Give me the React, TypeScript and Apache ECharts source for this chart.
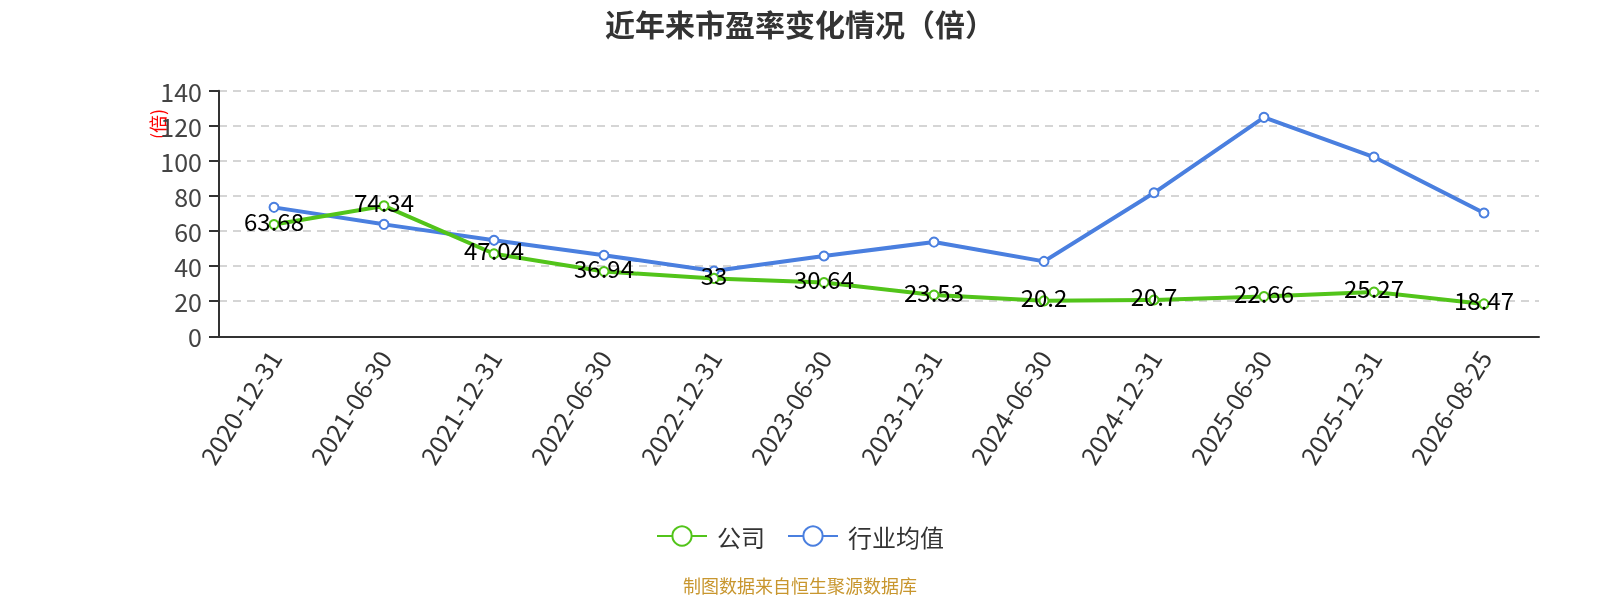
import React, { useEffect, useRef } from "react";
import * as echarts from "echarts";

const categories = [
  "2020-12-31", "2021-06-30", "2021-12-31", "2022-06-30", "2022-12-31", "2023-06-30",
  "2023-12-31", "2024-06-30", "2024-12-31", "2025-06-30", "2025-12-31", "2026-08-25",
];
const companyValues = [63.68, 74.34, 47.04, 36.94, 33, 30.64, 23.53, 20.2, 20.7, 22.66, 25.27, 18.47];
const industryValues = [73.5, 63.8, 54.7, 46.2, 37.2, 45.8, 53.7, 42.7, 81.8, 124.8, 102.2, 70.3];
const yTicks = { min: 0, max: 140, interval: 20 };

export default function App() {
  const ref = useRef<HTMLDivElement>(null);
  useEffect(() => {
    if (!ref.current) return;
    const chart = echarts.init(ref.current, undefined, { renderer: "svg" });
    const font = "'Noto Sans CJK SC', 'Noto Sans', sans-serif";
    chart.setOption({
      animation: false,
      textStyle: { fontFamily: font },
      title: {
        text: "近年来市盈率变化情况（倍）",
        left: "center",
        top: 3,
        textStyle: { fontSize: 30, fontWeight: "bold", color: "#333", fontFamily: font },
      },
      grid: { left: 219, right: 61, top: 90.7, bottom: 263.7 },
      legend: {
        top: 519,
        left: "center",
        itemWidth: 50,
        itemHeight: 24,
        itemGap: 22,
        textStyle: { fontSize: 24, color: "#333", fontFamily: font, padding: [0, 0, 0, 5] },
        data: ["公司", "行业均值"],
      },
      graphic: [
        {
          type: "text",
          x: 157,
          y: 124,
          rotation: Math.PI / 2,
          style: {
            text: "(倍)",
            fontSize: 18,
            fill: "#ff0000",
            align: "center",
            verticalAlign: "middle",
            fontFamily: font,
          },
        },
        {
          type: "text",
          left: "center",
          top: 576,
          style: { text: "制图数据来自恒生聚源数据库", fontSize: 18, fill: "#c8962e", fontFamily: font },
        },
      ],
      xAxis: {
        type: "category",
        data: categories,
        boundaryGap: true,
        axisLine: { lineStyle: { color: "#333", width: 2 } },
        axisTick: { lineStyle: { color: "#333", width: 2 }, length: 10 },
        axisLabel: { rotate: 58, fontSize: 25, color: "#333", margin: 16, fontFamily: font },
      },
      yAxis: {
        type: "value",
        min: yTicks.min,
        max: yTicks.max,
        interval: yTicks.interval,
        axisLine: { show: true, lineStyle: { color: "#333", width: 2 } },
        axisTick: { show: true, lineStyle: { color: "#333", width: 2 }, length: 10 },
        axisLabel: { fontSize: 25, color: "#444", margin: 17, fontFamily: font },
        splitLine: { lineStyle: { color: "#c8c8c8", type: [8, 6], width: 1.5 } },
      },
      series: [
        {
          name: "公司",
          type: "line",
          data: companyValues,
          symbol: "emptyCircle",
          symbolSize: 9,
          lineStyle: { color: "#52c41a", width: 4 },
          itemStyle: { color: "#52c41a", borderWidth: 2 },
          label: { show: true, position: "inside", offset: [0, -4], fontSize: 24, color: "#000", fontFamily: font },
          z: 3,
        },
        {
          name: "行业均值",
          type: "line",
          data: industryValues,
          symbol: "emptyCircle",
          symbolSize: 9,
          lineStyle: { color: "#4a7fdf", width: 4 },
          itemStyle: { color: "#4a7fdf", borderWidth: 2 },
          z: 2,
        },
      ],
    });
    return () => chart.dispose();
  }, []);
  return <div ref={ref} style={{ position: "fixed", left: 0, top: 0, width: 1600, height: 600 }} />;
}
